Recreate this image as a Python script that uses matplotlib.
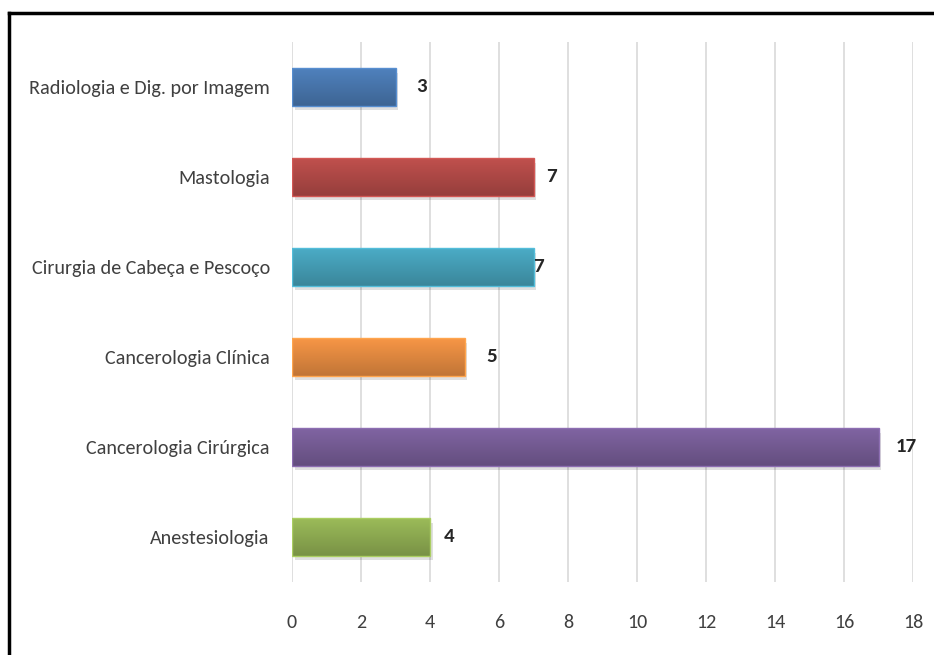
import matplotlib
matplotlib.use("Agg")
import matplotlib.pyplot as plt
import numpy as np
from matplotlib.lines import Line2D

categories = ["Anestesiologia", "Cancerologia Cirúrgica", "Cancerologia Clínica",
              "Cirurgia de Cabeça e Pescoço", "Mastologia", "Radiologia e Dig. por Imagem"]
values = [4, 17, 5, 7, 7, 3]
colors = ["#9bbb59", "#8064a2", "#f79646", "#4bacc6", "#c0504d", "#4f81bd"]
xticks = [0, 2, 4, 6, 8, 10, 12, 14, 16, 18]

plt.rcParams["font.family"] = ["Carlito", "DejaVu Sans"]

fig = plt.figure(figsize=(9.34, 6.55), dpi=100)
ax = fig.add_axes([292/934, (655-582)/655, (913-292)/934, 540/655])

ypos = np.arange(len(categories))
h = 0.42

def shade(c, k):
    rgb = np.array(matplotlib.colors.to_rgb(c))
    return np.clip(rgb * k, 0, 1)

for y, v, c in zip(ypos, values, colors):
    # soft shadow
    ax.barh(y - 0.05, v, height=h, left=0.08, color="#000000", alpha=0.12, zorder=2)
    # gradient fill, lighter at top, darker at bottom
    grad = np.linspace(0, 1, 50)[:, None]
    top, bot = shade(c, 1.0), shade(c, 0.78)
    img = top[None, None, :] * (1 - grad[..., None]) + bot[None, None, :] * grad[..., None]
    img = np.repeat(img, 2, axis=1)
    ax.imshow(img, extent=[0, v, y - h/2, y + h/2], origin="upper", aspect="auto", zorder=3)
    ax.barh(y, v, height=h, color="none", edgecolor=shade(c, 1.1), linewidth=1, zorder=4)

offsets = [10, 12, 16, 0, 9, 15]
for y, v, o in zip(ypos, values, offsets):
    ax.annotate(str(v), (v, y), xytext=(o, 0), textcoords="offset points",
                va="center", ha="left", fontsize=15, fontweight="bold", color="#262626", zorder=5)

ax.set_xlim(0, 18)
ax.set_ylim(-0.5, len(categories) - 0.5)
ax.set_xticks(xticks)
ax.set_yticks(ypos)
ax.set_yticklabels(categories)
ax.grid(axis="x", color="#d9d9d9", linewidth=1.2, zorder=0)
ax.set_axisbelow(True)
for s in ax.spines.values():
    s.set_visible(False)
ax.tick_params(axis="both", length=0, labelsize=14.5, colors="#404040")
ax.tick_params(axis="x", pad=23)
ax.tick_params(axis="y", pad=16)

# outer frame (top and left visible)
fig.add_artist(Line2D([9/934, 9/934], [0, 1 - 13/655], color="black", linewidth=2.5, transform=fig.transFigure))
fig.add_artist(Line2D([9/934, 1], [1 - 13/655, 1 - 13/655], color="black", linewidth=2.5, transform=fig.transFigure))

fig.savefig("out.png", dpi=100)
